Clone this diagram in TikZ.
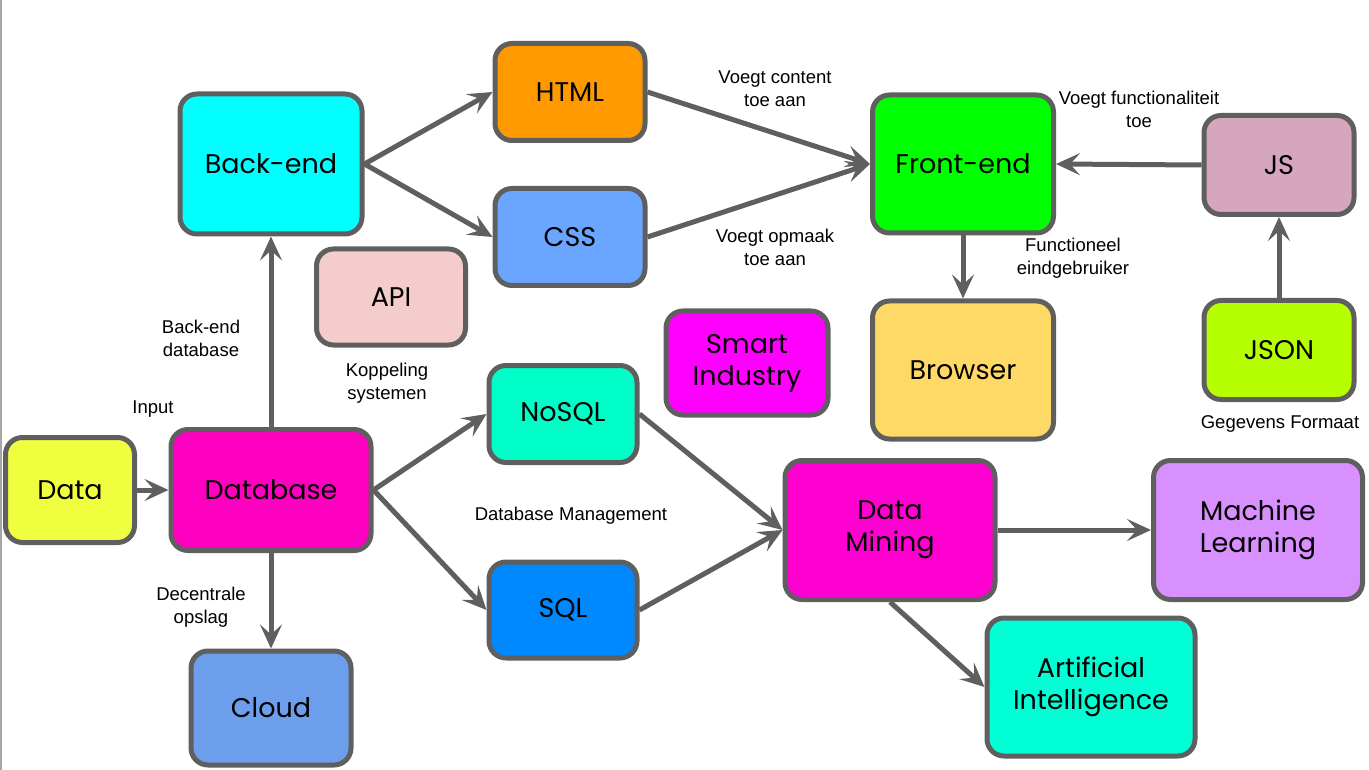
\documentclass[tikz,border=0pt]{standalone}
\usepackage{fontspec}
\setmainfont{Liberation Sans}
\newfontfamily\boxfont{Poppins}
\usetikzlibrary{arrows.meta}
\definecolor{edge}{HTML}{5F5F5F}
\definecolor{cData}{HTML}{EFFF3F}
\definecolor{cDatabase}{HTML}{FF00C0}
\definecolor{cBackend}{HTML}{00FFFF}
\definecolor{cCloud}{HTML}{6D9EEB}
\definecolor{cHTML}{HTML}{FF9900}
\definecolor{cCSS}{HTML}{6AA5FF}
\definecolor{cAPI}{HTML}{F4CCCC}
\definecolor{cFront}{HTML}{00FF00}
\definecolor{cBrowser}{HTML}{FFD966}
\definecolor{cJS}{HTML}{D5A6BD}
\definecolor{cJSON}{HTML}{B6FF00}
\definecolor{cSmart}{HTML}{FF00FF}
\definecolor{cNoSQL}{HTML}{00FFC8}
\definecolor{cSQL}{HTML}{0088FF}
\definecolor{cMining}{HTML}{FF00D0}
\definecolor{cML}{HTML}{D990FF}
\definecolor{cAI}{HTML}{00FFD5}
\begin{document}
\begin{tikzpicture}[x=1pt,y=-1pt,
  box/.style={draw=edge, line width=5pt, rounded corners=17pt, font=\boxfont\fontsize{27}{32}\selectfont, align=center, inner sep=0pt},
  conn/.style={draw=edge, line width=5pt, -{Stealth[length=24pt,width=22pt,inset=10pt]}},
  lbl/.style={font=\fontsize{18.5}{23}\selectfont, align=center, inner sep=0pt}]
\useasboundingbox (0,0) rectangle (1369,770);
\draw[line width=2pt, color=black!35] (1,0) -- (1,770);

\node[box, fill=cData, minimum width=129pt, minimum height=105pt] (data) at (70,490) {Data};
\node[box, fill=cDatabase, minimum width=200pt, minimum height=121pt] (database) at (271,490) {Database};
\node[box, fill=cBackend, minimum width=182pt, minimum height=140pt] (backend) at (271,164) {Back-end};
\node[box, fill=cCloud, minimum width=160pt, minimum height=114pt] (cloud) at (271,708) {Cloud};
\node[box, fill=cHTML, minimum width=150pt, minimum height=97pt] (html) at (570,92) {HTML};
\node[box, fill=cCSS, minimum width=150pt, minimum height=97pt] (css) at (570,237) {CSS};
\node[box, fill=cAPI, minimum width=149pt, minimum height=96pt] (api) at (391,297) {API};
\node[box, fill=cFront, minimum width=181pt, minimum height=138pt] (front) at (963,164) {Front-end};
\node[box, fill=cBrowser, minimum width=181pt, minimum height=138pt] (browser) at (963,370) {Browser};
\node[box, fill=cJS, minimum width=150pt, minimum height=99pt] (js) at (1279,165) {JS};
\node[box, fill=cJSON, minimum width=150pt, minimum height=99pt] (json) at (1279,350) {JSON};
\node[box, fill=cSmart, minimum width=162pt, minimum height=104pt] (smart) at (747,363) {Smart\\Industry};
\node[box, fill=cNoSQL, minimum width=148pt, minimum height=97pt] (nosql) at (563,414) {NoSQL};
\node[box, fill=cSQL, minimum width=148pt, minimum height=96pt] (sql) at (563,610) {SQL};
\node[box, fill=cMining, minimum width=210pt, minimum height=139pt] (mining) at (890,530) {Data\\Mining};
\node[box, fill=cML, minimum width=209pt, minimum height=139pt] (ml) at (1258,530) {Machine\\Learning};
\node[box, fill=cAI, minimum width=208pt, minimum height=138pt] (ai) at (1091,687) {Artificial\\Intelligence};

\draw[conn] (data.east) -- (database.west);
\draw[conn] (database.north) -- (backend.south);
\draw[conn] (database.south) -- (cloud.north);
\draw[conn] (database.east) -- (nosql.west);
\draw[conn] (database.east) -- (sql.west);
\draw[conn] (backend.east) -- (html.west);
\draw[conn] (backend.east) -- (css.west);
\draw[conn] (html.east) -- (front.west);
\draw[conn] (css.east) -- (front.west);
\draw[conn] (js.west) -- (front.east);
\draw[conn] (json.north) -- (js.south);
\draw[conn] (front.south) -- (browser.north);
\draw[conn] (nosql.east) -- (mining.west);
\draw[conn] (sql.east) -- (mining.west);
\draw[conn] (mining.east) -- (ml.west);
\draw[conn] (mining.south) -- (ai.west);

\node[lbl] (l1) at (201,338) {Back-end\\database};
\node[lbl] (l2) at (153,409) {Input};
\node[lbl] (l3) at (201,607) {Decentrale\\opslag};
\node[lbl] (l4) at (387,383) {Koppeling\\systemen};
\node[lbl] (l5) at (571,516) {Database Management};
\node[lbl] (l6) at (775,89) {Voegt content\\toe aan};
\node[lbl] (l7) at (775,247) {Voegt opmaak\\toe aan};
\node[lbl] (l8) at (1139,109) {Voegt functionaliteit\\toe};
\node[lbl] (l9) at (1073,258) {Functioneel\\eindgebruiker};
\node[lbl] (l10) at (1280,424) {Gegevens Formaat};
\end{tikzpicture}
\end{document}
